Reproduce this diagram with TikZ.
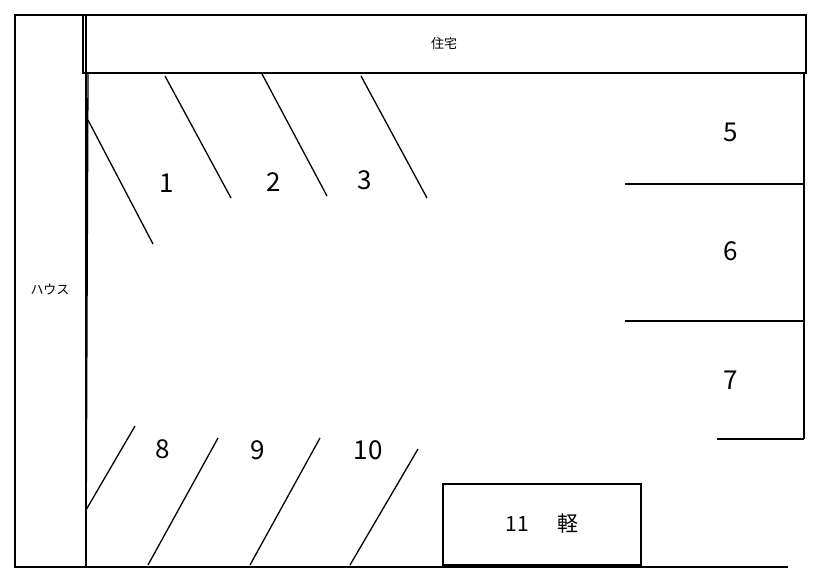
\documentclass[tikz,border=0pt]{standalone}
\usepackage{fontspec}
\setmainfont{Noto Sans CJK JP}
\begin{document}
\begin{tikzpicture}[x=1pt,y=-1pt,line width=1.3pt,
    lbl/.style={font=\fontsize{13}{15}\selectfont},
    num/.style={font=\fontsize{26}{30}\selectfont}]
        \useasboundingbox (0,0) rectangle (816,586);

        % buildings
        \draw (15,15) rectangle (86,567);
        \draw (83,15) rectangle (806,73);
        \node[lbl] (house) at (50,290) {ハウス};
        \node[lbl] (home) at (444,44) {住宅};

        % site edges
        \draw (15,567) -- (788,567);
        \draw (88,73) -- (86,567);
        \draw (804,73) -- (804,439);

        % upper slots
        \draw (88,120) -- (153,244);
        \draw (165,76) -- (231,198);
        \draw (262,74) -- (327,196);
        \draw (361,76) -- (427,198);
        \node[num] (p1) at (167,183) {1};
        \node[num] (p2) at (274,182) {2};
        \node[num] (p3) at (365,180) {3};

        % right slots
        \draw (625,184) -- (804,184);
        \draw (625,321) -- (804,321);
        \draw (717,439) -- (804,439);
        \node[num] (p5) at (731,132) {5};
        \node[num] (p6) at (731,251) {6};
        \node[num] (p7) at (731,380) {7};

        % lower slots
        \draw (86,510) -- (135,426);
        \draw (148,565) -- (218,438);
        \draw (250,565) -- (320,438);
        \draw (350,565) -- (418,449);
        \node[num] (p8) at (163,449) {8};
        \node[num] (p9) at (258,450) {9};
        \node[num] (p10) at (368,450) {10};

        \draw (443,484) rectangle (641,565);
        \node[font=\fontsize{21}{24}\selectfont] (p11) at (542,524) {11\hspace{28pt}軽};
\end{tikzpicture}
\end{document}
